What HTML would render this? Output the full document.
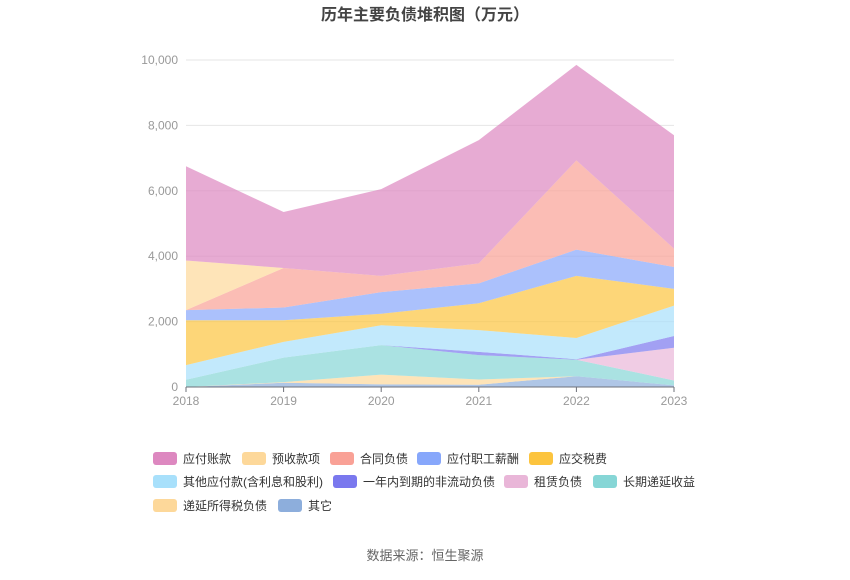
<!DOCTYPE html>
<html><head><meta charset="utf-8"><style>
body{margin:0;background:#fff;font-family:"Liberation Sans","Noto Sans CJK SC",sans-serif;}
svg text{font-family:"Liberation Sans","Noto Sans CJK SC",sans-serif;}
</style></head><body>
<svg id="c" width="850" height="575" xmlns="http://www.w3.org/2000/svg">
<text x="425" y="20" text-anchor="middle" font-size="16" font-weight="bold" fill="#444">历年主要负债堆积图（万元）</text>
<g id="grid"></g><g id="areas"></g><g id="axes"></g><g id="legend"></g>
<text x="425" y="560" text-anchor="middle" font-size="13" fill="#666">数据来源：恒生聚源</text>
</svg>
<script>
const years=['2018','2019','2020','2021','2022','2023'];
const yTicks=[0,2000,4000,6000,8000,10000];
const yTickLabels=['0','2,000','4,000','6,000','8,000','10,000'];
const seriesNames=['其它','递延所得税负债','长期递延收益','租赁负债','一年内到期的非流动负债','其他应付款(含利息和股利)','应交税费','应付职工薪酬','合同负债','预收款项','应付账款'];
const sOther=[0,130,80,70,330,50];
const sDeferredTax=[0,20,300,160,0,0];
const sDeferredIncome=[220,750,900,745,505,150];
const sLease=[0,0,0,0,0,1000];
const sCurrentNonCur=[0,0,0,100,15,360];
const sOtherPayable=[450,480,610,665,650,930];
const sTax=[1370,660,350,820,1900,510];
const sSalary=[310,390,660,610,800,670];
const sContract=[0,1210,500,610,2730,560];
const sAdvance=[1520,0,0,0,0,0];
const sPayable=[2880,1710,2650,3770,2920,3470];
const allSeries=[sOther,sDeferredTax,sDeferredIncome,sLease,sCurrentNonCur,sOtherPayable,sTax,sSalary,sContract,sAdvance,sPayable];
const colors=['#8daedc','#fdd89a','#86d6d6','#e9b6d8','#7a78ee','#a8e0fb','#fcc43e','#87a7fb','#f9a196','#fdd89a','#dd88c0'];
const ids=['other','deferred-tax','deferred-income','lease','current-noncurrent','other-payable','tax','salary','contract','advance','payable'];
const NS='http://www.w3.org/2000/svg';
const x0=186,x1=674,yb=387,yt=60,ymax=10000;
const X=i=>x0+(x1-x0)*i/(years.length-1);
const Y=v=>yb-(yb-yt)*v/ymax;
function mk(t,a,p){const e=document.createElementNS(NS,t);for(const k in a)e.setAttribute(k,a[k]);p.appendChild(e);return e;}
const grid=document.getElementById('grid'),axes=document.getElementById('axes'),areas=document.getElementById('areas'),leg=document.getElementById('legend');
yTicks.forEach((v,i)=>{
 const l=mk('line',{x1:x0,x2:x1,y1:Y(v),y2:Y(v),stroke:'#e6e6e6'},grid);
 
 const t=mk('text',{x:x0-8,y:Y(v)+4,'text-anchor':'end','font-size':12,fill:'#999'},axes);
 t.textContent=yTickLabels[i];
 
});
const ax=mk('line',{x1:x0,x2:x1,y1:yb,y2:yb,stroke:'#6e7079'},axes);

years.forEach((y,i)=>{
 const tk=mk('line',{x1:X(i),x2:X(i),y1:yb,y2:yb+5,stroke:'#6e7079'},axes);
 
 const t=mk('text',{x:X(i),y:yb+18,'text-anchor':'middle','font-size':12,fill:'#999'},axes);
 t.textContent=y;
 
});
let base=years.map(()=>0);
allSeries.forEach((s,k)=>{
 const top=base.map((b,i)=>b+s[i]);
 let d='M'+top.map((v,i)=>X(i)+','+Y(v)).join(' L');
 for(let i=years.length-1;i>=0;i--)d+=' L'+X(i)+','+Y(base[i]);
 const p=mk('path',{d:d+'Z',fill:colors[k],'fill-opacity':0.7,stroke:'none'},areas);
 
 base=top;
});
const order=[10,9,8,7,6,5,4,3,2,1,0];
const px=[153,242,330,417,529,153,333,504,593,153,278];
const py=[458,458,458,458,458,481,481,481,481,505,505];
order.forEach((k,j)=>{
 const g=mk('g',{},leg);
 
 const x=px[j],y=py[j];
 mk('rect',{x:x,y:y-6,width:24,height:13,rx:3,fill:colors[k]},g);
 const t=mk('text',{x:x+30,y:y+5,'font-size':12,fill:'#333'},g);
 t.textContent=seriesNames[k];
});
</script>
</body></html>
